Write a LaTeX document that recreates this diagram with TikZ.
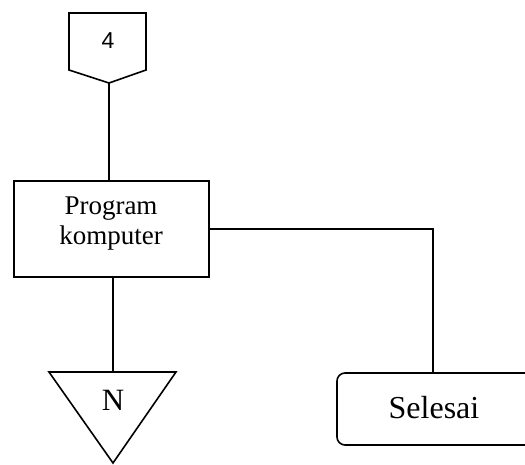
\documentclass[tikz,border=0pt]{standalone}
\usepackage{fontspec}
\setmainfont{Liberation Serif}
\newfontfamily\labelsans{Liberation Sans}
\begin{document}
\begin{tikzpicture}[x=1pt,y=-1pt,
  outline/.style={draw=black,line width=1.6pt},
  link/.style={draw=black,line width=1.1pt},
  boxtext/.style={font=\fontsize{27}{30}\selectfont,align=center,inner sep=0pt},
  endtext/.style={font=\fontsize{32}{36}\selectfont,inner sep=0pt}]
\useasboundingbox (0,0) rectangle (525,464);
\clip (0,0) rectangle (525,464);

% off-page connector "4"
\coordinate (offtip) at (109,83);
\draw[outline,line join=miter] (69,13) -- (146,13) -- (146,70) -- (offtip) -- (69,70) -- cycle;
\node[font=\labelsans\fontsize{23}{26}\selectfont,inner sep=0pt] (four) at (108,41) {4};

% process box
\node[outline,minimum width=195pt,minimum height=96pt,inner sep=0pt] (prog) at (111.5,229) {};
\node[boxtext] (progtext) at (111,224) {Program\\komputer};

% merge triangle "N"
\coordinate (tritop) at (113,372);
\draw[outline,line join=miter] (49,372) -- (176,372) -- (113,463) -- cycle;
\node[font=\fontsize{31}{34}\selectfont,inner sep=0pt] (nlab) at (113,400) {N};

% terminator "Selesai"
\node[outline,rounded corners=8pt,minimum width=205pt,minimum height=72pt,inner sep=0pt] (end) at (439.5,409) {};
\node[endtext] (endtext) at (434,408) {Selesai};

% connectors
\draw[link] (offtip) -- (offtip |- prog.north);
\draw[link] (prog.east) -- (433,229) -- (433,373);
\draw[link] (prog.south -| tritop) -- (tritop);
\end{tikzpicture}
\end{document}
